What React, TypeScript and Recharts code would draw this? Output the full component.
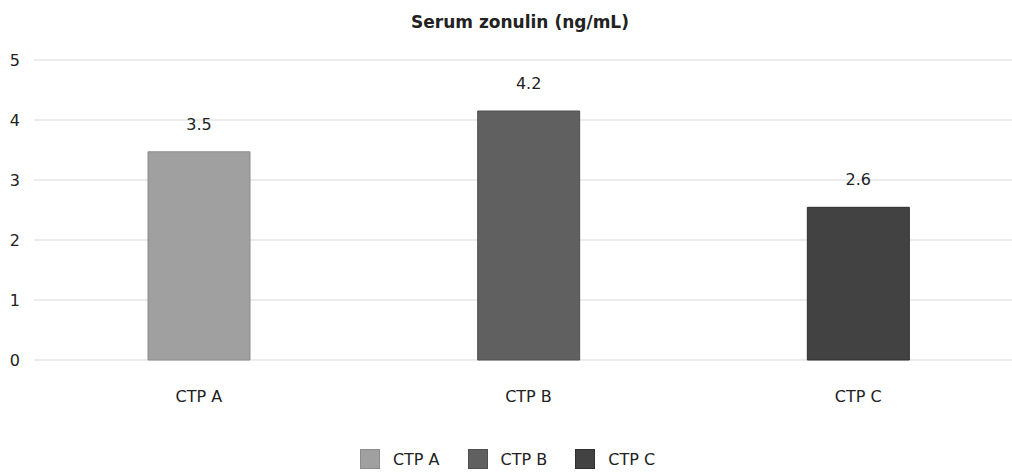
import { BarChart, Bar, XAxis, YAxis, CartesianGrid, Legend, LabelList, Cell } from 'recharts';

const categories = ['CTP A', 'CTP B', 'CTP C'];
const zonulin = [3.47, 4.15, 2.545];
const valueLabels = ['3.5', '4.2', '2.6'];
const barColors = ['#a0a0a0', '#606060', '#424242'];
const barStrokes = ['#8c8c8c', '#505050', '#2e2e2e'];
const yTicks = [0, 1, 2, 3, 4, 5];

const data = categories.map((name, i) => ({ name, value: zonulin[i], label: valueLabels[i] }));

const FONT = '"DejaVu Sans", Verdana, sans-serif';

function LegendBox() {
  return (
    <div style={{ display: 'flex', justifyContent: 'center', alignItems: 'center', fontFamily: FONT, fontSize: 16, color: '#222', paddingRight: 8 }}>
      {categories.map((c, i) => (
        <div key={c} style={{ display: 'flex', alignItems: 'center', marginLeft: i === 0 ? 0 : 28 }}>
          <span style={{ display: 'inline-block', width: 20, height: 20, background: barColors[i], border: `1px solid ${barStrokes[i]}`, boxSizing: 'border-box', marginRight: 13 }} />
          <span>{c}</span>
        </div>
      ))}
    </div>
  );
}

export default function App() {
  return (
    <div style={{ position: 'absolute', left: 0, top: 0, width: 1012, height: 472, overflow: 'hidden', background: '#fff' }}>
      <div style={{ position: 'absolute', left: 0, width: 1040, top: 12, textAlign: 'center', fontFamily: FONT, fontWeight: 'bold', fontSize: 17, color: '#222' }}>
        Serum zonulin (ng/mL)
      </div>
      <BarChart width={1023} height={472} data={data} margin={{ top: 60, right: 0, left: 0, bottom: 0 }} barSize={102}>
        <CartesianGrid vertical={false} stroke="#e6e6e6" strokeWidth={1.5} />
        <XAxis
          dataKey="name"
          axisLine={false}
          tickLine={false}
          tickSize={0}
          tickMargin={31}
          height={80}
          tick={{ fill: '#222', fontSize: 16, fontFamily: FONT }}
        />
        <YAxis
          domain={[0, 5]}
          ticks={yTicks}
          axisLine={false}
          tickLine={false}
          tickSize={0}
          tickMargin={14}
          width={34}
          tick={{ fill: '#222', fontSize: 16, fontFamily: FONT }}
        />
        <Legend verticalAlign="bottom" height={32} wrapperStyle={{ top: 449, bottom: 'auto' }} content={() => <LegendBox />} />
        <Bar dataKey="value" isAnimationActive={false}>
          {data.map((d, i) => (
            <Cell key={d.name} fill={barColors[i]} stroke={barStrokes[i]} strokeWidth={1} />
          ))}
          <LabelList dataKey="label" position="top" offset={22} style={{ fill: '#222', fontSize: 16, fontFamily: FONT }} />
        </Bar>
      </BarChart>
    </div>
  );
}
